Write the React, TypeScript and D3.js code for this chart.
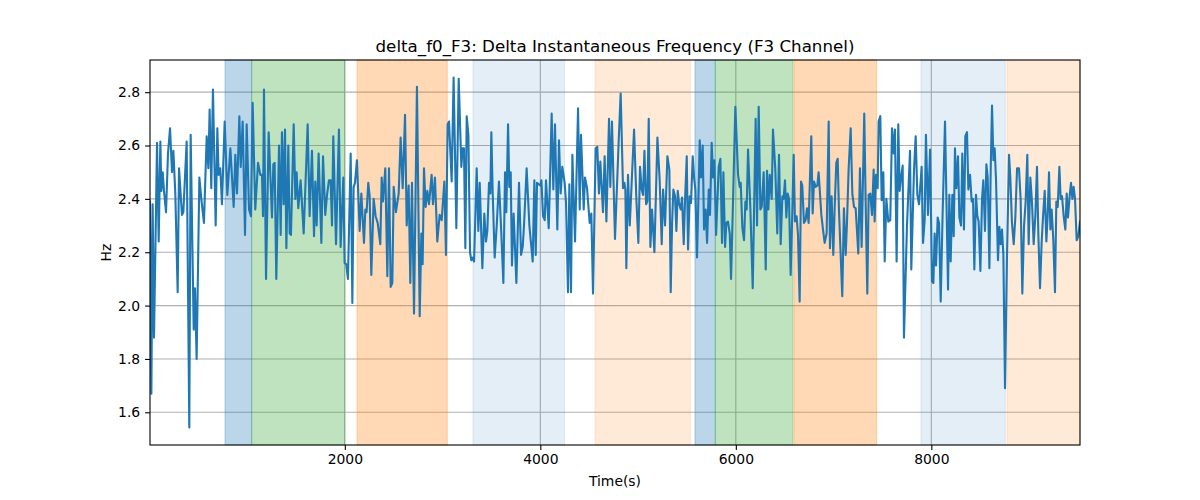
import React, { useEffect, useRef } from 'react';
import * as d3 from 'd3';

// time stamps (s) and delta f0 values (Hz)
const times = [
  7, 21, 34, 48, 79, 96, 113, 123, 137, 150, 171, 191, 212, 232, 246, 266, 290, 304, 334, 348,
  382, 409, 423, 454, 467, 484, 512, 532, 559, 587, 604, 617, 634, 651, 679, 696, 709, 726, 743, 771,
  798, 829, 863, 880, 897, 921, 935, 955, 979, 996, 1020, 1040, 1057, 1084, 1112, 1136, 1153, 1163, 1173, 1194,
  1221, 1255, 1269, 1282, 1299, 1327, 1344, 1357, 1374, 1388, 1402, 1422, 1436, 1449, 1477, 1494, 1507, 1524, 1548, 1579,
  1620, 1640, 1664, 1685, 1698, 1712, 1732, 1760, 1777, 1800, 1818, 1838, 1855, 1869, 1882, 1910, 1940, 1957, 1985, 1998,
  2015, 2032, 2060, 2077, 2090, 2104, 2124, 2152, 2169, 2196, 2210, 2223, 2240, 2254, 2271, 2295, 2315, 2336, 2363, 2377,
  2390, 2414, 2435, 2452, 2469, 2486, 2500, 2523, 2551, 2571, 2592, 2616, 2633, 2653, 2670, 2687, 2708, 2738, 2766, 2783,
  2796, 2810, 2827, 2844, 2861, 2888, 2902, 2922, 2946, 2970, 2991, 3018, 3035, 3052, 3066, 3093, 3113, 3141, 3165, 3192,
  3206, 3219, 3233, 3247, 3264, 3281, 3294, 3308, 3322, 3349, 3366, 3380, 3407, 3427, 3444, 3458, 3475, 3489, 3499, 3513,
  3533, 3554, 3577, 3601, 3622, 3639, 3652, 3670, 3683, 3697, 3710, 3727, 3755, 3782, 3803, 3820, 3833, 3860, 3888, 3922,
  3939, 3953, 3966, 3983, 4000, 4011, 4028, 4045, 4058, 4086, 4116, 4133, 4150, 4174, 4191, 4208, 4225, 4249, 4263, 4283,
  4297, 4314, 4328, 4355, 4386, 4403, 4416, 4444, 4457, 4478, 4505, 4522, 4539, 4566, 4583, 4600, 4614, 4641, 4658, 4676,
  4703, 4716, 4733, 4764, 4802, 4822, 4846, 4860, 4870, 4880, 4897, 4915, 4935, 4959, 4983, 5003, 5020, 5037, 5051, 5065,
  5082, 5095, 5109, 5126, 5143, 5167, 5198, 5221, 5242, 5256, 5276, 5300, 5320, 5334, 5348, 5361, 5378, 5392, 5406, 5419,
  5436, 5450, 5467, 5481, 5498, 5511, 5528, 5542, 5559, 5573, 5586, 5603, 5631, 5644, 5661, 5675, 5692, 5706, 5723, 5736,
  5753, 5767, 5781, 5798, 5825, 5842, 5859, 5873, 5890, 5903, 5920, 5938, 5951, 5972, 5995, 6023, 6040, 6050, 6067, 6084,
  6098, 6111, 6125, 6149, 6173, 6203, 6217, 6234, 6251, 6265, 6285, 6306, 6319, 6333, 6347, 6367, 6380, 6404, 6424, 6442,
  6459, 6476, 6489, 6503, 6517, 6530, 6544, 6561, 6578, 6592, 6605, 6622, 6636, 6653, 6667, 6680, 6697, 6714, 6728, 6745,
  6762, 6772, 6786, 6800, 6817, 6834, 6847, 6875, 6892, 6909, 6929, 6950, 6963, 6980, 6997, 7011, 7028, 7042, 7055, 7072,
  7089, 7106, 7124, 7137, 7154, 7175, 7192, 7209, 7226, 7253, 7270, 7287, 7314, 7328, 7345, 7359, 7376, 7393, 7410, 7420,
  7434, 7451, 7461, 7478, 7492, 7509, 7523, 7540, 7560, 7580, 7598, 7615, 7628, 7645, 7662, 7676, 7690, 7707, 7720, 7751,
  7782, 7795, 7823, 7840, 7857, 7874, 7901, 7915, 7932, 7945, 7966, 7987, 8007, 8021, 8034, 8048, 8065, 8079, 8096, 8116,
  8140, 8171, 8184, 8198, 8215, 8229, 8242, 8256, 8273, 8287, 8304, 8317, 8334, 8348, 8365, 8379, 8396, 8413, 8427, 8440,
  8457, 8471, 8484, 8502, 8519, 8532, 8549, 8563, 8577, 8594, 8607, 8621, 8635, 8648, 8662, 8682, 8696, 8710, 8723, 8737,
  8754, 8774, 8795, 8808, 8825, 8843, 8860, 8877, 8897, 8914, 8931, 8948, 8965, 8982, 8996, 9013, 9030, 9047, 9064, 9081,
  9095, 9112, 9129, 9143, 9160, 9177, 9190, 9204, 9218, 9231, 9248, 9265, 9279, 9293, 9310, 9323, 9337, 9354, 9371, 9385,
  9398, 9415, 9429, 9443, 9456, 9470, 9487, 9504, 9521,
];

const values = [
  2.39, 1.67, 2.38, 1.88, 2.61, 2.24, 2.615, 2.43, 2.5, 2.43, 2.35, 2.57, 2.665, 2.5, 2.58, 2.42, 2.05, 2.515, 2.34, 2.35,
  2.615, 1.543, 2.64, 1.91, 2.065, 1.8, 2.48, 2.4, 2.31, 2.635, 2.515, 2.735, 2.44, 2.81, 2.3, 2.665, 2.49, 2.515, 2.38, 2.69,
  2.415, 2.59, 2.37, 2.565, 2.42, 2.71, 2.52, 2.69, 2.265, 2.68, 2.36, 2.335, 2.76, 2.36, 2.535, 2.49, 2.49, 2.335, 2.81, 2.1,
  2.65, 2.33, 2.53, 2.535, 2.1, 2.6, 2.265, 2.65, 2.38, 2.66, 2.215, 2.6, 2.27, 2.265, 2.68, 2.4, 2.5, 2.365, 2.47, 2.27,
  2.68, 2.335, 2.58, 2.26, 2.465, 2.3, 2.57, 2.235, 2.56, 2.34, 2.415, 2.47, 2.47, 2.3, 2.635, 2.23, 2.66, 2.22, 2.48, 2.16,
  2.155, 2.1, 2.57, 2.01, 2.445, 2.46, 2.545, 2.28, 2.42, 2.235, 2.36, 2.35, 2.46, 2.41, 2.115, 2.4, 2.335, 2.31, 2.23, 2.48,
  2.39, 2.515, 2.11, 2.515, 2.07, 2.085, 2.445, 2.35, 2.42, 2.63, 2.44, 2.715, 2.3, 2.45, 2.085, 2.46, 1.97, 2.82, 1.96, 2.27,
  2.155, 2.515, 2.37, 2.43, 2.38, 2.49, 2.38, 2.48, 2.24, 2.34, 2.32, 2.465, 2.19, 2.68, 2.69, 2.465, 2.855, 2.29, 2.85, 2.52,
  2.59, 2.59, 2.215, 2.71, 2.64, 2.2, 2.17, 2.18, 2.165, 2.515, 2.28, 2.46, 2.14, 2.345, 2.24, 2.28, 2.46, 2.42, 2.65, 2.42,
  2.18, 2.3, 2.465, 2.27, 2.085, 2.5, 2.35, 2.68, 2.445, 2.5, 2.15, 2.345, 2.085, 2.46, 2.19, 2.22, 2.3, 2.515, 2.3, 2.165,
  2.47, 2.19, 2.46, 2.455, 2.45, 2.47, 2.335, 2.32, 2.47, 2.29, 2.72, 2.435, 2.68, 2.285, 2.62, 2.42, 2.52, 2.46, 2.385, 2.05,
  2.455, 2.05, 2.565, 2.24, 2.74, 2.36, 2.64, 2.36, 2.48, 2.44, 2.31, 2.345, 2.045, 2.59, 2.595, 2.42, 2.54, 2.35, 2.56, 2.315,
  2.7, 2.445, 2.69, 2.25, 2.62, 2.795, 2.44, 2.46, 2.435, 2.14, 2.49, 2.3, 2.465, 2.66, 2.395, 2.235, 2.52, 2.435, 2.415, 2.58,
  2.38, 2.39, 2.7, 2.22, 2.36, 2.2, 2.63, 2.47, 2.23, 2.435, 2.3, 2.56, 2.51, 2.05, 2.31, 2.435, 2.41, 2.28, 2.43, 2.385,
  2.36, 2.405, 2.23, 2.4, 2.56, 2.21, 2.41, 2.385, 2.56, 2.48, 2.435, 2.18, 2.62, 2.48, 2.6, 2.285, 2.36, 2.235, 2.435, 2.34,
  2.61, 2.48, 2.545, 2.265, 2.52, 2.55, 2.235, 2.5, 2.22, 2.31, 2.315, 2.27, 2.1, 2.4, 2.745, 2.49, 2.445, 2.46, 2.29, 2.245,
  2.39, 2.36, 2.585, 2.36, 2.065, 2.7, 2.3, 2.745, 2.36, 2.37, 2.5, 2.135, 2.505, 2.36, 2.49, 2.4, 2.66, 2.51, 2.27, 2.565,
  2.23, 2.41, 2.4, 2.47, 2.33, 2.42, 2.4, 2.115, 2.35, 2.565, 2.315, 2.335, 2.265, 2.015, 2.465, 2.45, 2.31, 2.32, 2.365, 2.31,
  2.52, 2.635, 2.345, 2.465, 2.445, 2.45, 2.5, 2.34, 2.285, 2.235, 2.27, 2.69, 2.215, 2.41, 2.19, 2.365, 2.535, 2.55, 2.36, 2.195,
  2.035, 2.365, 2.19, 2.31, 2.51, 2.665, 2.42, 2.37, 2.365, 2.195, 2.515, 2.22, 2.72, 2.395, 2.045, 2.415, 2.42, 2.34, 2.51, 2.315,
  2.49, 2.44, 2.69, 2.71, 2.395, 2.5, 2.165, 2.4, 2.315, 2.32, 2.665, 2.57, 2.66, 2.165, 2.68, 2.43, 2.48, 2.525, 1.88, 2.3,
  2.58, 2.135, 2.51, 2.635, 2.415, 2.38, 2.52, 2.235, 2.32, 2.64, 2.34, 2.585, 2.09, 2.085, 2.27, 2.15, 2.33, 2.31, 2.015, 2.35,
  2.69, 2.06, 2.415, 2.165, 2.415, 2.26, 2.59, 2.44, 2.56, 2.33, 2.3, 2.57, 2.285, 2.635, 2.65, 2.435, 2.49, 2.39, 2.4, 2.135,
  2.415, 2.335, 2.315, 2.13, 2.4, 2.47, 2.28, 2.53, 2.48, 2.14, 2.5, 2.75, 2.545, 2.59, 2.47, 2.17, 2.295, 2.23, 2.285, 2.19,
  1.69, 2.18, 2.565, 2.48, 2.31, 2.23, 2.335, 2.515, 2.515, 2.395, 2.045, 2.295, 2.39, 2.565, 2.23, 2.48, 2.385, 2.23, 2.335, 2.52,
  2.265, 2.065, 2.24, 2.335, 2.43, 2.24, 2.335, 2.5, 2.285, 2.36, 2.245, 2.05, 2.39, 2.37, 2.52, 2.4, 2.41, 2.335, 2.285, 2.42,
  2.33, 2.41, 2.46, 2.4, 2.445, 2.4, 2.245, 2.26, 2.315,
];

// shaded segments
const bandStart = [774, 1047, 2125, 3311, 4559, 5582, 5790, 6595, 7894, 8774];
const bandEnd = [1047, 2000, 3048, 4249, 5534, 5790, 6585, 7441, 8757, 9521];
const bandColor = ['#1f77b4', '#2ca02c', '#ff7f0e', '#1f77b4', '#ff7f0e', '#1f77b4', '#2ca02c', '#ff7f0e', '#1f77b4', '#ff7f0e'];
const bandAlpha = [0.3, 0.3, 0.3, 0.12, 0.16, 0.3, 0.3, 0.3, 0.12, 0.16];

const xTicks = [2000, 4000, 6000, 8000];
const yTicks = [1.6, 1.8, 2.0, 2.2, 2.4, 2.6, 2.8];

const FONT = 'DejaVu Sans, sans-serif';

const App: React.FC = () => {
  const svgRef = useRef<SVGSVGElement>(null);

  useEffect(() => {
    if (!svgRef.current) return;
    const svg = d3.select(svgRef.current);
    svg.selectAll('*').remove();

    const margin = { top: 60, right: 120, bottom: 55, left: 150 };
    const width = 1200 - margin.left - margin.right;
    const height = 500 - margin.top - margin.bottom;

    const points = times.map((t, i) => ({ t, v: values[i] }));

    const xScale = d3.scaleLinear()
      .domain(d3.extent(times) as [number, number])
      .range([0, width]);

    const [vmin, vmax] = d3.extent(values) as [number, number];
    const pad = (vmax - vmin) * 0.05;
    const yScale = d3.scaleLinear()
      .domain([vmin - pad, vmax + pad])
      .range([height, 0]);

    const g = svg.append('g').attr('transform', `translate(${margin.left},${margin.top})`);

    const defs = svg.append('defs');
    defs.append('clipPath').attr('id', 'plot-clip')
      .append('rect').attr('width', width).attr('height', height);

    // grid
    g.append('g').selectAll('line.gx')
      .data(xTicks)
      .enter()
      .append('line')
      .attr('x1', d => xScale(d)).attr('x2', d => xScale(d))
      .attr('y1', 0).attr('y2', height)
      .attr('stroke', '#b0b0b0').attr('stroke-width', 1.1);

    g.append('g').selectAll('line.gy')
      .data(yTicks)
      .enter()
      .append('line')
      .attr('x1', 0).attr('x2', width)
      .attr('y1', d => yScale(d)).attr('y2', d => yScale(d))
      .attr('stroke', '#b0b0b0').attr('stroke-width', 1.1);

    // bands
    g.append('g').selectAll('rect')
      .data(bandStart)
      .enter()
      .append('rect')
      .attr('x', (d) => xScale(d))
      .attr('y', 0)
      .attr('width', (d, i) => xScale(bandEnd[i]) - xScale(d))
      .attr('height', height)
      .attr('fill', (d, i) => bandColor[i])
      .attr('fill-opacity', (d, i) => bandAlpha[i])
      .attr('stroke', (d, i) => bandColor[i])
      .attr('stroke-opacity', (d, i) => bandAlpha[i])
      .attr('stroke-width', 1);

    // signal
    const line = d3.line<{ t: number; v: number }>()
      .x(d => xScale(d.t))
      .y(d => yScale(d.v));

    g.append('path')
      .datum(points)
      .attr('clip-path', 'url(#plot-clip)')
      .attr('fill', 'none')
      .attr('stroke', '#1f77b4')
      .attr('stroke-width', 2.1)
      .attr('stroke-linejoin', 'round')
      .attr('stroke-linecap', 'square')
      .attr('d', line);

    // axes
    const xAxis = d3.axisBottom(xScale)
      .tickValues(xTicks)
      .tickSize(4.9)
      .tickPadding(4.2)
      .tickFormat(d => String(d));

    const xg = g.append('g')
      .attr('transform', `translate(0,${height})`)
      .call(xAxis);

    const yAxis = d3.axisLeft(yScale)
      .tickValues(yTicks)
      .tickSize(4.9)
      .tickPadding(4.9)
      .tickFormat(d => (d as number).toFixed(1));

    const yg = g.append('g').call(yAxis);

    [xg, yg].forEach(ax => {
      ax.select('.domain').remove();
      ax.selectAll('line').attr('stroke', '#000').attr('stroke-width', 1.1);
      ax.selectAll('text')
        .attr('fill', '#000')
        .style('font-family', FONT)
        .style('font-size', '13.9px');
    });

    // spines
    g.append('rect')
      .attr('width', width)
      .attr('height', height)
      .attr('fill', 'none')
      .attr('stroke', '#000')
      .attr('stroke-width', 1.1);

    // labels
    svg.append('text')
      .attr('x', margin.left + width / 2)
      .attr('y', 52)
      .attr('text-anchor', 'middle')
      .style('font-family', FONT)
      .style('font-size', '16.7px')
      .text('delta_f0_F3: Delta Instantaneous Frequency (F3 Channel)');

    svg.append('text')
      .attr('x', margin.left + width / 2)
      .attr('y', 486)
      .attr('text-anchor', 'middle')
      .style('font-family', FONT)
      .style('font-size', '13.9px')
      .text('Time(s)');

    svg.append('text')
      .attr('transform', `translate(111,${margin.top + height / 2}) rotate(-90)`)
      .attr('text-anchor', 'middle')
      .style('font-family', FONT)
      .style('font-size', '13.9px')
      .text('Hz');
  }, []);

  return (
    <svg
      ref={svgRef}
      width={1200}
      height={500}
      style={{ position: 'absolute', left: 0, top: 0, background: '#fff' }}
    ></svg>
  );
};

export default App;
